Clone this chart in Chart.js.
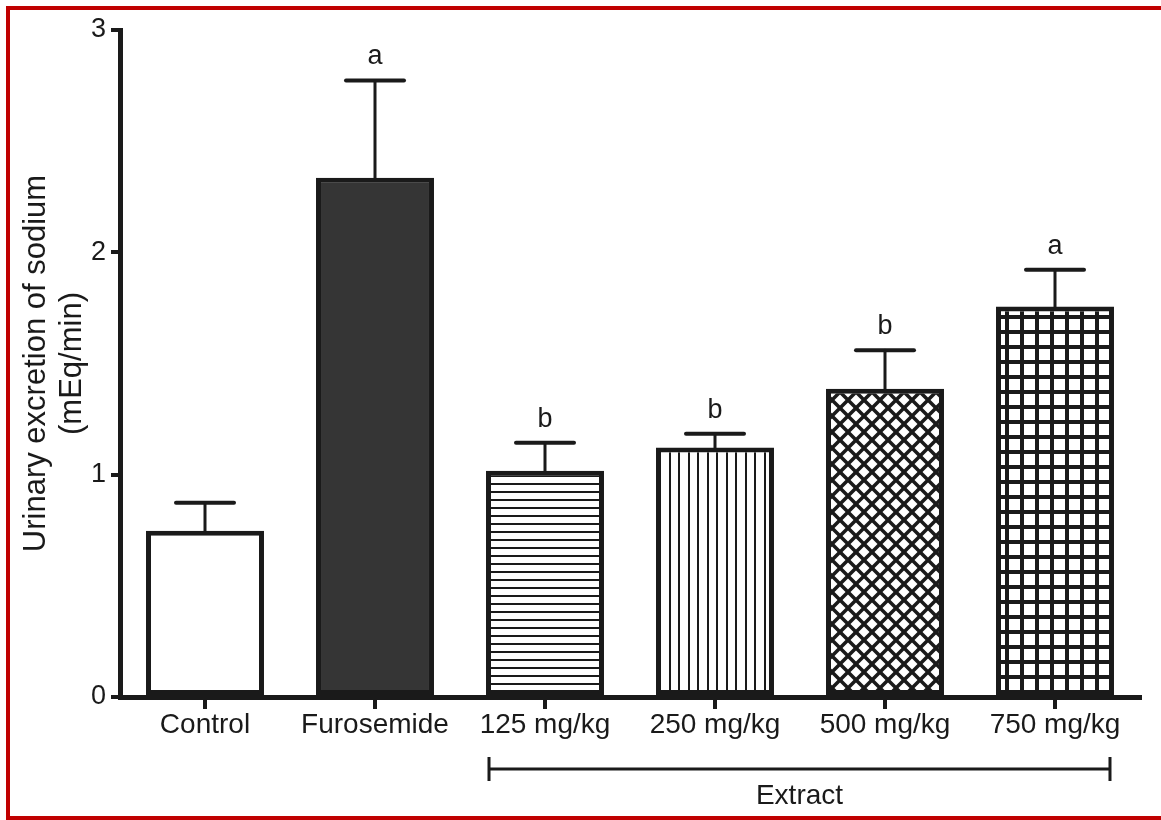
<!DOCTYPE html>
<html>
<head>
<meta charset="utf-8">
<script src="https://cdn.jsdelivr.net/npm/chart.js@4.4.0/dist/chart.umd.min.js"></script>
<style>
  body { margin: 0; background: #fff; }
  #wrap { width: 1161px; height: 820px; }
</style>
</head>
<body>
<div id="wrap"><canvas id="myChart" width="1161" height="820"></canvas></div>
<script>
const categories = ["Control", "Furosemide", "125 mg/kg", "250 mg/kg", "500 mg/kg", "750 mg/kg"];
const sodiumMeans = [0.748, 2.335, 1.018, 1.122, 1.386, 1.756];
const sodiumErrors = [0.126, 0.438, 0.126, 0.062, 0.174, 0.166];
const significance = ["", "a", "b", "b", "b", "a"];
const yTicks = [0, 1, 2, 3];
const groupLabel = "Extract";
const groupFirst = 2;
const groupLast = 5;

const ink = "#1a1a1a";
const fontFamily = "'Liberation Sans', Arial, sans-serif";

const canvas = document.getElementById("myChart");
const ctx = canvas.getContext("2d");

// small tiles for the hatched bars
function makePattern(w, h, draw) {
  const c = document.createElement("canvas");
  c.width = w;
  c.height = h;
  const p = c.getContext("2d");
  p.fillStyle = "#fff";
  p.fillRect(0, 0, w, h);
  p.fillStyle = ink;
  p.strokeStyle = ink;
  draw(p, w, h);
  return ctx.createPattern(c, "repeat");
}

const horizontalLines = makePattern(8, 8, (p, w) => {
  p.fillRect(0, 3, w, 2);
});

const verticalLines = makePattern(19, 8, (p, w, h) => {
  p.fillRect(4, 0, 2, h);
  p.fillRect(13, 0, 2, h);
});

const crossHatch = makePattern(16, 16, (p, w) => {
  p.lineWidth = 3.5;
  for (let k = -1; k <= 1; k++) {
    p.beginPath();
    p.moveTo(k * w, 0);
    p.lineTo(k * w + w, w);
    p.stroke();
    p.beginPath();
    p.moveTo(k * w + w, 0);
    p.lineTo(k * w, w);
    p.stroke();
  }
});

const squareGrid = makePattern(15, 15, (p, w) => {
  p.fillRect(0, 0, w, 4);
  p.fillRect(0, 0, 4, w);
});

const barFills = ["#ffffff", "#353535", horizontalLines, verticalLines, crossHatch, squareGrid];

const errorBars = {
  id: "errorBars",
  afterDatasetsDraw(chart) {
    const c = chart.ctx;
    const y = chart.scales.y;
    const meta = chart.getDatasetMeta(0);
    c.save();
    c.strokeStyle = ink;
    c.fillStyle = ink;
    c.lineCap = "round";
    meta.data.forEach((bar, i) => {
      const top = y.getPixelForValue(sodiumMeans[i] + sodiumErrors[i]);
      c.lineWidth = 3;
      c.beginPath();
      c.moveTo(bar.x, bar.y);
      c.lineTo(bar.x, top);
      c.stroke();
      c.lineWidth = 4;
      c.beginPath();
      c.moveTo(bar.x - 29, top);
      c.lineTo(bar.x + 29, top);
      c.stroke();
      if (significance[i]) {
        c.font = "27px " + fontFamily;
        c.textAlign = "center";
        c.textBaseline = "alphabetic";
        c.fillText(significance[i], bar.x, top - 16);
      }
    });
    c.restore();
  },
};

const groupBracket = {
  id: "groupBracket",
  afterDraw(chart) {
    const c = chart.ctx;
    const meta = chart.getDatasetMeta(0);
    const a = meta.data[groupFirst];
    const b = meta.data[groupLast];
    const x1 = a.x - a.width / 2 + 3;
    const x2 = b.x + b.width / 2 - 4;
    const yLine = chart.chartArea.bottom + 72;
    c.save();
    c.strokeStyle = ink;
    c.lineWidth = 3;
    c.beginPath();
    c.moveTo(x1, yLine);
    c.lineTo(x2, yLine);
    c.moveTo(x1, yLine - 12);
    c.lineTo(x1, yLine + 12);
    c.moveTo(x2, yLine - 12);
    c.lineTo(x2, yLine + 12);
    c.stroke();
    c.fillStyle = ink;
    c.font = "28px " + fontFamily;
    c.textAlign = "center";
    c.textBaseline = "middle";
    c.fillText(groupLabel, (x1 + x2) / 2, yLine + 27);
    c.restore();

    // red frame round the figure
    c.save();
    c.strokeStyle = "#c00000";
    c.lineWidth = 4;
    c.strokeRect(8, 8, 1170, 810);
    c.restore();
  },
};

new Chart(canvas, {
  type: "bar",
  data: {
    labels: categories,
    datasets: [
      {
        data: sodiumMeans,
        backgroundColor: barFills,
        borderColor: ink,
        borderWidth: 5,
        borderSkipped: false,
        barPercentage: 0.694,
        categoryPercentage: 1,
      },
    ],
  },
  options: {
    responsive: false,
    animation: false,
    layout: { padding: { left: 10, top: 30, right: 21, bottom: 0 } },
    plugins: {
      legend: { display: false },
      tooltip: { enabled: false },
    },
    scales: {
      x: {
        grid: {
          offset: false,
          drawOnChartArea: false,
          drawTicks: true,
          tickLength: 12,
          color: ink,
          lineWidth: 4,
        },
        border: { color: ink, width: 5 },
        ticks: {
          color: ink,
          font: { family: fontFamily, size: 28, lineHeight: 1 },
          padding: 2,
          maxRotation: 0,
          autoSkip: false,
        },
        afterFit: (scale) => {
          scale.height = 123;
        },
      },
      y: {
        min: 0,
        max: 3,
        afterBuildTicks: (scale) => {
          scale.ticks = yTicks.map((v) => ({ value: v }));
        },
        grid: {
          drawOnChartArea: false,
          drawTicks: true,
          tickLength: 9,
          color: ink,
          lineWidth: 4,
        },
        border: { color: ink, width: 5 },
        ticks: {
          color: ink,
          font: { family: fontFamily, size: 27 },
          padding: 5,
        },
        title: {
          display: true,
          text: ["Urinary excretion of sodium", "(mEq/min)"],
          color: ink,
          font: { family: fontFamily, size: 31, lineHeight: 1.15 },
          padding: { top: 9, bottom: 0 },
        },
        afterFit: (scale) => {
          scale.width = 110;
        },
      },
    },
  },
  plugins: [errorBars, groupBracket],
});
</script>
</body>
</html>
